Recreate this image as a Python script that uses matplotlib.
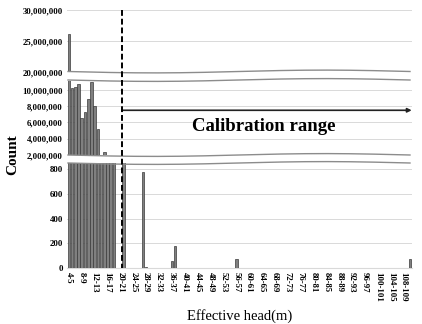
import numpy as np
import matplotlib
matplotlib.use("Agg")
import matplotlib.pyplot as plt
from matplotlib.lines import Line2D
from matplotlib.ticker import FuncFormatter

plt.rcParams['font.family'] = ['Liberation Serif', 'DejaVu Serif']
plt.rcParams['font.weight'] = 'bold'

# lower bound (m) of every 1 m head bin that holds pixels, and the pixel count
head_low = [4, 5, 6, 7, 8, 9, 10, 11, 12, 13, 14, 15, 16, 17, 18,
            21, 27, 28, 36, 37, 56, 110]
counts = [26200000, 10260000, 10380000, 10670000, 6500000, 7300000,
          8830000, 10950000, 8000000, 5150000, 1600000, 2400000,
          900000, 300000, 40000,
          30000, 780, 5, 55, 175, 73, 70]

all_low = np.arange(4, 111)
bin_labels = [f"{a}-{a + 1}" for a in all_low]
values = np.zeros(len(all_low))
values[np.searchsorted(all_low, head_low)] = counts
x = np.arange(len(all_low))

calib_start = 21   # calibration range starts at 21 m

fig = plt.figure(figsize=(4.22, 3.24), dpi=100)
W, H = 422, 324
left, right = 67, 412


def px_axes(top, bottom):
    return fig.add_axes([left / W, 1 - bottom / H, (right - left) / W, (bottom - top) / H])


ax_top = px_axes(10, 72)
ax_mid = px_axes(81, 155)
ax_bot = px_axes(163, 268)

for ax in (ax_top, ax_mid, ax_bot):
    ax.bar(x, values, width=0.82, color='#808080', edgecolor='#3a3a3a', linewidth=0.5, zorder=3)
    ax.set_xlim(-0.6, len(x) - 0.4)
    ax.grid(axis='y', color='#d9d9d9', linewidth=0.7, zorder=0)
    for s in ('left', 'right', 'top', 'bottom'):
        ax.spines[s].set_visible(False)
    ax.tick_params(axis='both', length=0, labelsize=6.3, pad=3)

comma = FuncFormatter(lambda v, p: f"{int(v):,}")

ax_top.set_ylim(20000000, 30000000)
ax_top.set_yticks([20000000, 25000000, 30000000])
ax_top.yaxis.set_major_formatter(comma)
ax_top.set_xticks([])

ax_mid.set_ylim(2000000, 11100000)
ax_mid.set_yticks([2000000, 4000000, 6000000, 8000000, 10000000])
ax_mid.yaxis.set_major_formatter(comma)
ax_mid.set_xticks([])

ax_bot.set_ylim(0, 850)
ax_bot.set_yticks([0, 200, 400, 600, 800])
ax_bot.spines['bottom'].set_visible(True)
ax_bot.spines['bottom'].set_color('#d9d9d9')
ax_bot.set_xticks(x[::4])
ax_bot.set_xticklabels(bin_labels[::4], rotation=-90, fontsize=6.3)
ax_bot.set_xlabel('Effective head(m)', fontsize=10.5, labelpad=5)

fig.text(13 / W, 1 - 155 / H, 'Count', rotation=90, fontsize=11,
         ha='center', va='center')

# wavy break marks between the panels
xs = np.linspace(68, 410, 200)
wave = 1.4 * np.sin((xs - 68) / 342 * 2 * np.pi)
for base in (71.5, 80.0, 155.0, 163.0):
    fig.add_artist(Line2D(xs / W, 1 - (base + wave) / H, transform=fig.transFigure,
                          color='#8c8c8c', linewidth=1.0))

# dashed line marking the start of the calibration range
xpos = calib_start - all_low[0] - 0.5
xf = fig.transFigure.inverted().transform(ax_bot.transData.transform((xpos, 0)))[0]
fig.add_artist(Line2D([xf, xf], [1 - 10 / H, 1 - 268 / H], transform=fig.transFigure,
                      color='black', linewidth=1.4, linestyle=(0, (3, 1.5))))

ax_mid.annotate('', xy=(len(x) - 0.5, 7500000), xytext=(xpos, 7500000),
                arrowprops=dict(arrowstyle='-|>', color='#222222', lw=1.2,
                                mutation_scale=6, shrinkA=0, shrinkB=0))
ax_mid.text(60.5, 5500000, 'Calibration range', fontsize=13.5, ha='center', va='center')

fig.savefig('out.png', dpi=100)
